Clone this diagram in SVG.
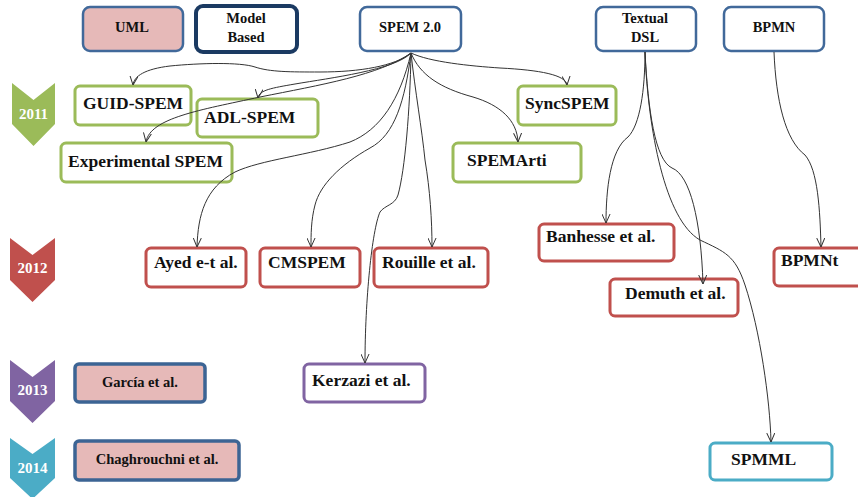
<svg xmlns="http://www.w3.org/2000/svg" width="858" height="497" viewBox="0 0 858 497" font-family="'Liberation Serif', 'DejaVu Serif', serif" font-weight="bold">
  <defs>
    <marker id="arrow" viewBox="0 0 10 10" refX="10" refY="5" markerWidth="9" markerHeight="9" markerUnits="userSpaceOnUse" orient="auto">
      <path d="M0,0.5 L10,5 L0,9.5" fill="none" stroke="#333" stroke-width="1.1"/>
    </marker>
  </defs>
  <style>
    text { fill: #111; }
    .big { font-size: 17.5px; }
    .small { font-size: 14.5px; text-anchor: middle; }
    .year { font-size: 15px; fill: #fff; text-anchor: middle; }
    .cat { fill: #fff; stroke: #41699a; stroke-width: 2.5; }
    .uml { fill: #e6b9b8; stroke: #41699a; stroke-width: 2.5; }
    .mb { fill: #fff; stroke: #1b3a62; stroke-width: 4; }
    .pink { fill: #e6b9b8; stroke: #3c6494; stroke-width: 3.5; }
    .g { fill: #fff; stroke: #9bbb59; stroke-width: 3; }
    .r { fill: #fff; stroke: #c0504d; stroke-width: 3; }
    .p { fill: #fff; stroke: #8064a2; stroke-width: 3; }
    .t { fill: #fff; stroke: #4bacc6; stroke-width: 3; }
    .conn path { fill: none; stroke: #333; stroke-width: 1; marker-end: url(#arrow); }
  </style>

  <rect width="858" height="497" fill="#fff"/>

  <!-- year chevrons -->
  <g id="year-2011">
    <path d="M12,83 L33.5,100 L55,83 L55,124 L33.5,146 L12,124 Z" fill="#9bbb59"/>
    <text class="year" x="33.5" y="119">2011</text>
  </g>
  <g id="year-2012">
    <path d="M10,238 L32.5,255 L55,238 L55,280 L32.5,302 L10,280 Z" fill="#c0504d"/>
    <text class="year" x="32.5" y="273">2012</text>
  </g>
  <g id="year-2013">
    <path d="M10,360 L32.5,377 L55,360 L55,401 L32.5,423 L10,401 Z" fill="#8064a2"/>
    <text class="year" x="32.5" y="395">2013</text>
  </g>
  <g id="year-2014">
    <path d="M10,438 L32.5,454 L55,438 L55,478 L32.5,499 L10,478 Z" fill="#4bacc6"/>
    <text class="year" x="32.5" y="473">2014</text>
  </g>

  <!-- category boxes -->
  <g id="uml">
    <rect class="uml" x="83" y="7" width="100" height="44" rx="7"/>
    <text class="small" x="132" y="32">UML</text>
  </g>
  <g id="model-based">
    <rect class="mb" x="196" y="6" width="101" height="46" rx="7"/>
    <text class="small" x="246" y="23">Model</text>
    <text class="small" x="246" y="42">Based</text>
  </g>
  <g id="spem20">
    <rect class="cat" x="360" y="7" width="101" height="44" rx="7"/>
    <text class="small" x="410" y="32">SPEM 2.0</text>
  </g>
  <g id="textual-dsl">
    <rect class="cat" x="596" y="7" width="100" height="44" rx="7"/>
    <text class="small" x="645" y="23">Textual</text>
    <text class="small" x="645" y="42">DSL</text>
  </g>
  <g id="bpmn">
    <rect class="cat" x="724" y="7" width="100" height="44" rx="7"/>
    <text class="small" x="774" y="32">BPMN</text>
  </g>

  <!-- 2011 -->
  <g id="guid-spem">
    <rect class="g" x="75" y="86" width="116" height="39" rx="5"/>
    <text class="big" x="83" y="109">GUID-SPEM</text>
  </g>
  <g id="adl-spem">
    <rect class="g" x="197" y="99" width="121" height="38" rx="5"/>
    <text class="big" x="204" y="123">ADL-SPEM</text>
  </g>
  <g id="experimental-spem">
    <rect class="g" x="61" y="143" width="171" height="39" rx="5"/>
    <text class="big" x="68" y="167">Experimental SPEM</text>
  </g>
  <g id="syncspem">
    <rect class="g" x="518" y="86" width="98" height="39" rx="5"/>
    <text class="big" x="525" y="109">SyncSPEM</text>
  </g>
  <g id="spemarti">
    <rect class="g" x="453" y="143" width="128" height="39" rx="5"/>
    <text class="big" x="467" y="166">SPEMArti</text>
  </g>

  <!-- 2012 -->
  <g id="ayed">
    <rect class="r" x="146" y="248" width="100" height="39" rx="5"/>
    <text class="big" x="154" y="268">Ayed e-t al.</text>
  </g>
  <g id="cmspem">
    <rect class="r" x="260" y="248" width="100" height="39" rx="5"/>
    <text class="big" x="268" y="268">CMSPEM</text>
  </g>
  <g id="rouille">
    <rect class="r" x="374" y="248" width="114" height="39" rx="5"/>
    <text class="big" x="382" y="268">Rouille et al.</text>
  </g>
  <g id="banhesse">
    <rect class="r" x="539" y="224" width="135" height="37" rx="5"/>
    <text class="big" x="546" y="242">Banhesse et al.</text>
  </g>
  <g id="demuth">
    <rect class="r" x="610" y="279" width="128" height="37" rx="5"/>
    <text class="big" x="625" y="299">Demuth et al.</text>
  </g>
  <g id="bpmnt">
    <rect class="r" x="774" y="248" width="100" height="38" rx="5"/>
    <text class="big" x="781" y="266">BPMNt</text>
  </g>

  <!-- 2013 -->
  <g id="garcia">
    <rect class="pink" x="75" y="364" width="130" height="38" rx="4"/>
    <text class="small" x="140" y="387">García et al.</text>
  </g>
  <g id="kerzazi">
    <rect class="p" x="304" y="364" width="121" height="38" rx="5"/>
    <text class="big" x="312" y="386">Kerzazi et al.</text>
  </g>

  <!-- 2014 -->
  <g id="chaghrouchni">
    <rect class="pink" x="75" y="441" width="164" height="39" rx="4"/>
    <text class="small" x="157" y="464">Chaghrouchni et al.</text>
  </g>
  <g id="spmml">
    <rect class="t" x="710" y="443" width="122" height="37" rx="5"/>
    <text class="big" x="731" y="465">SPMML</text>
  </g>

  <!-- connectors -->
  <g class="conn" id="connectors">
    <path d="M411,53 C395,66 360,72 320,72 C290,72 270,72 255,67 C240,62 200,63 170,66 C145,69 134,76 133,85"/>
    <path d="M411,53 C395,70 330,78 295,84 C272,88 259,90 258,98"/>
    <path d="M411,53 C380,75 320,85 260,97 C200,110 150,118 146,142"/>
    <path d="M411,53 C400,100 380,130 350,142 C310,155 260,160 235,172 C205,188 198,215 197,247"/>
    <path d="M411,53 C405,100 395,135 370,148 C340,165 320,185 315,205 C311,220 311,235 311,247"/>
    <path d="M411,53 C410,110 405,170 398,195 C395,205 385,205 380,212 C372,230 365,300 365,363"/>
    <path d="M411,53 C415,90 422,130 425,160 C430,190 432,220 432,247"/>
    <path d="M411,53 C430,62 470,66 500,68 C540,70 566,75 567,85"/>
    <path d="M411,53 C420,75 440,88 473,97 C500,105 517,120 518,142"/>
    <path d="M645,52 C645,90 640,125 628,137 C610,150 606,190 606,223"/>
    <path d="M645,52 C648,110 655,160 672,168 C690,175 701,220 703,284"/>
    <path d="M645,52 C648,130 665,220 700,240 C725,252 735,255 745,285 C760,330 770,400 771,442"/>
    <path d="M774,52 C776,100 785,140 805,155 C818,170 820,210 821,247"/>
  </g>
</svg>
